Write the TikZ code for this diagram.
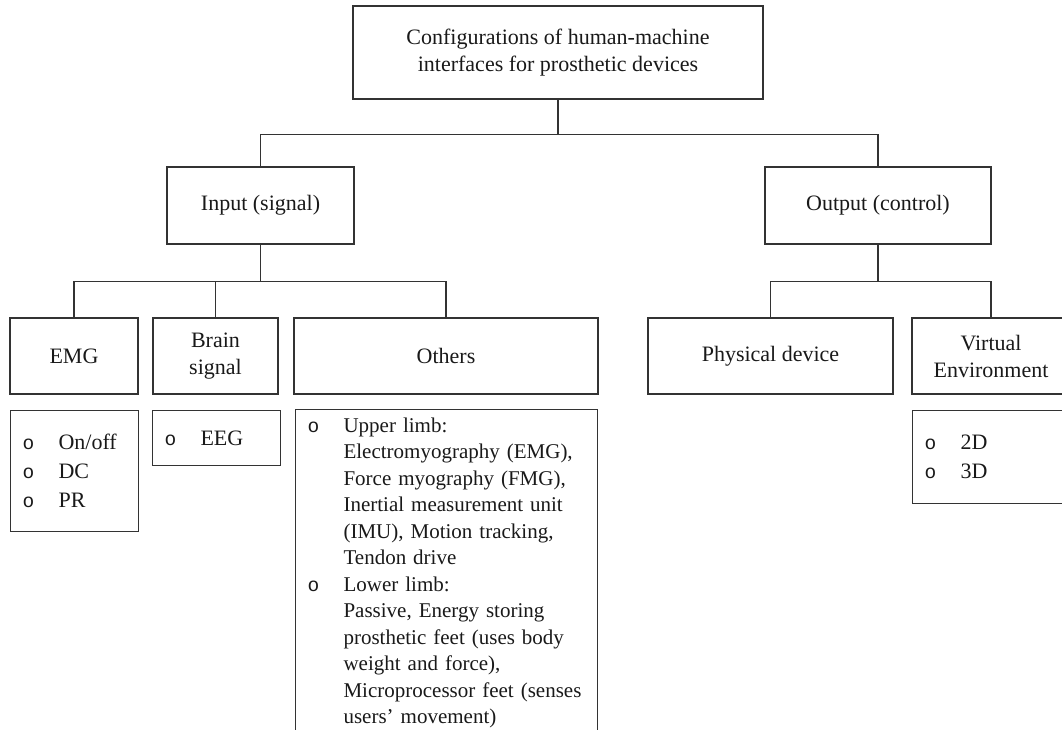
\documentclass[tikz,border=0pt]{standalone}
\usepackage{fontspec}
\setmainfont{Liberation Serif}
\newfontfamily\bulfont{Liberation Mono}
\usetikzlibrary{calc}
\definecolor{lnclr}{rgb}{0.2,0.2,0.2}
\definecolor{txclr}{rgb}{0.1,0.1,0.1}
\newcommand{\bul}{\makebox[37pt][l]{\hspace*{1pt}{\bulfont\fontsize{19.5}{19.5}\selectfont o}}}
\newcommand{\gap}{\hspace*{37pt}}
\tikzstyle{every node}=[font=\fontsize{22}{27}\selectfont,text=txclr]
\tikzstyle{box}=[draw=lnclr,line width=1.1pt,align=center,inner sep=0pt]
\tikzstyle{list}=[draw=lnclr,line width=1.1pt,align=left,anchor=north west,inner xsep=11pt,inner ysep=0pt]
\tikzstyle{conn}=[draw=lnclr,line width=1.1pt]

\begin{document}
\begin{tikzpicture}[line cap=round,x=1pt,y=-1pt]
            \useasboundingbox (0,0) rectangle (1062,729);
            \clip (0,0) rectangle (1062,729);
            % top level
            \node[box,minimum width=410pt,minimum height=93pt] (top) at (558,52.5) {Configurations of human-machine\\interfaces for prosthetic devices};
            \node[box,minimum width=187pt,minimum height=77pt] (in) at (260.5,205.5) {Input (signal)};
            \node[box,minimum width=226pt,minimum height=77pt] (out) at (878,205.5) {Output (control)};
            % third level
            \node[box,minimum width=128pt,minimum height=76pt] (emg) at (74,356) {EMG};
            \node[box,minimum width=125pt,minimum height=76pt] (brain) at (215.5,356) {Brain\\signal};
            \node[box,minimum width=304pt,minimum height=76pt] (oth) at (446,356) {Others};
            \node[box,minimum width=245pt,minimum height=76pt] (phys) at (770.5,356) {Physical device};
            \node[box,minimum width=158pt,minimum height=76pt] (virt) at (991,356) {Virtual\\Environment};
            % lists
            \node[list,text width=106pt,minimum height=121pt,font=\fontsize{22}{29}\selectfont] (emgl) at (10,410) {\bul On/off\\\bul DC\\\bul PR};
            \node[list,text width=106pt,minimum height=55pt] (brainl) at (152,410) {\bul EEG};
            \node[list,text width=280pt,inner ysep=8pt,font=\fontsize{21}{26.5}\selectfont] (othl) at (295,409) {\bul Upper limb:\\
                \gap Electromyography (EMG),\\
                \gap Force myography (FMG),\\
                \gap Inertial measurement unit\\
                \gap (IMU), Motion tracking,\\
                \gap Tendon drive\\
                \bul Lower limb:\\
                \gap Passive, Energy storing\\
                \gap prosthetic feet (uses body\\
                \gap weight and force),\\
                \gap Microprocessor feet (senses\\
                \gap users’ movement)};
            \node[list,text width=136pt,minimum height=93pt,font=\fontsize{22}{28.5}\selectfont] (virtl) at (912,410) {\bul 2D\\\bul 3D};
            % connectors
            \draw[conn] (top.south) -- ++(0,35) -| (in.north);
            \draw[conn] (top.south) -- ++(0,35) -| (out.north);
            \draw[conn] (in.south) -- ++(0,37) -| (emg.north);
            \draw[conn] (in.south) -- ++(0,37) -| (brain.north);
            \draw[conn] (in.south) -- ++(0,37) -| (oth.north);
            \draw[conn] (out.south) -- ++(0,37) -| (phys.north);
            \draw[conn] (out.south) -- ++(0,37) -| (virt.north);
\end{tikzpicture}
\end{document}
